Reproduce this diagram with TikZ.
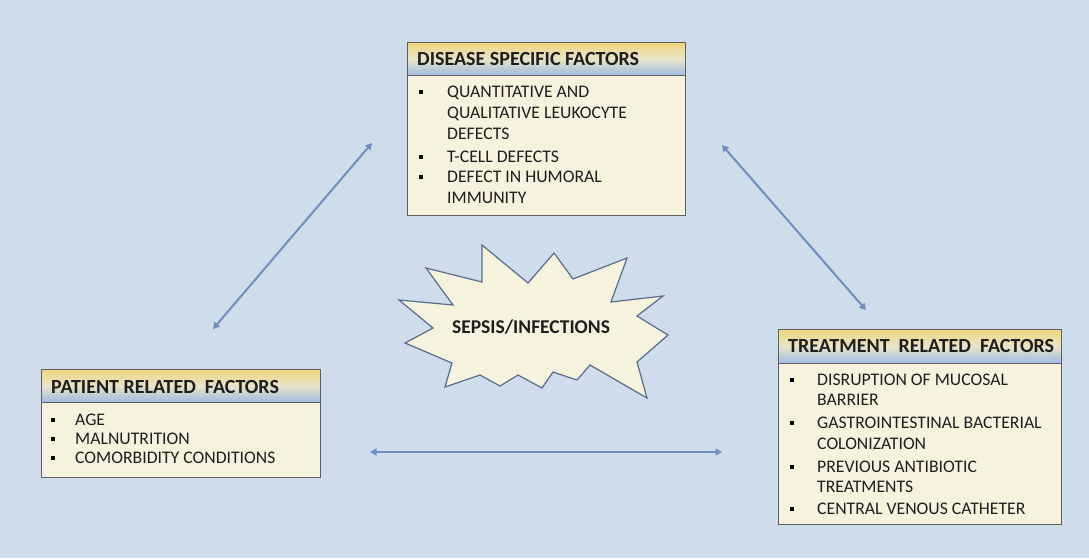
\documentclass[tikz,border=0pt]{standalone}
\usepackage{fontspec}
\setmainfont{Carlito}
\usetikzlibrary{arrows.meta}
\definecolor{bgc}{RGB}{207,220,236}
\definecolor{cream}{RGB}{245,243,222}
\definecolor{hdtop}{RGB}{240,214,128}
\definecolor{hdmid}{RGB}{232,228,200}
\definecolor{hdbot}{RGB}{160,186,226}
\definecolor{boxline}{RGB}{95,95,95}
\definecolor{arrowc}{RGB}{112,142,192}
\definecolor{starline}{RGB}{88,108,140}
\definecolor{txt}{RGB}{30,30,30}
\begin{document}
\begin{tikzpicture}[x=1pt,y=-1pt,
  panel/.style={draw=boxline,line width=0.9pt,fill=cream,anchor=north west,inner sep=0pt},
  header/.style={draw=boxline,line width=0.9pt,anchor=north west,inner sep=0pt,
     top color=hdtop,bottom color=hdbot,middle color=hdmid},
  htext/.style={anchor=base west,inner sep=0pt,text=txt,font=\fontsize{20}{22}\selectfont\bfseries},
  btext/.style={anchor=base west,inner sep=0pt,text=txt,font=\fontsize{17.7}{20}\selectfont},
  bsq/.style={fill=black,inner sep=0pt,minimum size=4.2pt,draw=none},
  conn/.style={draw=arrowc,line width=2pt,{Triangle[length=6.5pt,width=7pt]}-{Triangle[length=6.5pt,width=7pt]}}
]
\useasboundingbox (0,0) rectangle (1089,558);
\fill[bgc] (0,0) rectangle (1089,558);

% ---------- Disease specific factors ----------
\node[panel,minimum width=278pt,minimum height=173pt] (dbox) at (407,42) {};
\node[header,minimum width=278pt,minimum height=33pt] (dhead) at (407,42) {};
\node[htext] (dh) at (417,65) {DISEASE SPECIFIC FACTORS};
\node[bsq] (db1) at (421,92) {};
\node[btext] (d1a) at (447,97) {QUANTITATIVE AND};
\node[btext] (d1b) at (447,118) {QUALITATIVE LEUKOCYTE};
\node[btext] (d1c) at (447,139) {DEFECTS};
\node[bsq] (db2) at (421,157) {};
\node[btext] (d2a) at (447,162) {T-CELL DEFECTS};
\node[bsq] (db3) at (421,177) {};
\node[btext] (d3a) at (447,182) {DEFECT IN HUMORAL};
\node[btext] (d3b) at (447,203) {IMMUNITY};

% ---------- Patient related factors ----------
\node[panel,minimum width=279pt,minimum height=108pt] (pbox) at (41,369) {};
\node[header,minimum width=279pt,minimum height=33pt] (phead) at (41,369) {};
\node[htext] (ph) at (51,393) {PATIENT RELATED\ \ FACTORS};
\node[bsq] (pb1) at (53,420) {};
\node[btext] (p1) at (75,425) {AGE};
\node[bsq] (pb2) at (53,439) {};
\node[btext] (p2) at (75,444) {MALNUTRITION};
\node[bsq] (pb3) at (53,458) {};
\node[btext] (p3) at (75,463) {COMORBIDITY CONDITIONS};

% ---------- Treatment related factors ----------
\node[panel,minimum width=283pt,minimum height=195pt] (tbox) at (778,329) {};
\node[header,minimum width=283pt,minimum height=34pt] (thead) at (778,329) {};
\node[htext] (th) at (788,352) {TREATMENT\ \ RELATED\ \ FACTORS};
\node[bsq] (tb1) at (792,380) {};
\node[btext] (t1a) at (817,385) {DISRUPTION OF MUCOSAL};
\node[btext] (t1b) at (817,405.5) {BARRIER};
\node[bsq] (tb2) at (792,423) {};
\node[btext] (t2a) at (817,428) {GASTROINTESTINAL BACTERIAL};
\node[btext] (t2b) at (817,449) {COLONIZATION};
\node[bsq] (tb3) at (792,467) {};
\node[btext] (t3a) at (817,472) {PREVIOUS ANTIBIOTIC};
\node[btext] (t3b) at (817,492.5) {TREATMENTS};
\node[bsq] (tb4) at (792,509) {};
\node[btext] (t4a) at (817,514) {CENTRAL VENOUS CATHETER};

% ---------- Starburst ----------
\draw[starline,line width=1.2pt,fill=cream,line join=miter]
 (482,245) -- (528,283) -- (554,253) -- (573,279) -- (627,258) -- (611,302) --
 (663,296) -- (637,316) -- (668,335) -- (637,362) -- (647,398) -- (590,365) --
 (577,380) -- (553,372) -- (542,388) -- (518,375) -- (500,386) -- (480,375) --
 (445,387) -- (452,363) -- (405,343) -- (433,328) -- (399,300) -- (453,305) --
 (426,268) -- (482,282) -- cycle;
\node[anchor=base,inner sep=0pt,text=txt,font=\fontsize{19.5}{22}\selectfont\bfseries] (sepsis) at (531,333) {SEPSIS/INFECTIONS};

% ---------- Connectors ----------
\coordinate (a1s) at (213,329);
\coordinate (a1e) at (372,143);
\coordinate (a2s) at (722,145);
\coordinate (a2e) at (866,310);
\coordinate (a3s) at (370,452);
\coordinate (a3e) at (722,452);
\draw[conn] (a1s) -- (a1e);
\draw[conn] (a2s) -- (a2e);
\draw[conn] (a3s) -- (a3e);
\end{tikzpicture}
\end{document}
